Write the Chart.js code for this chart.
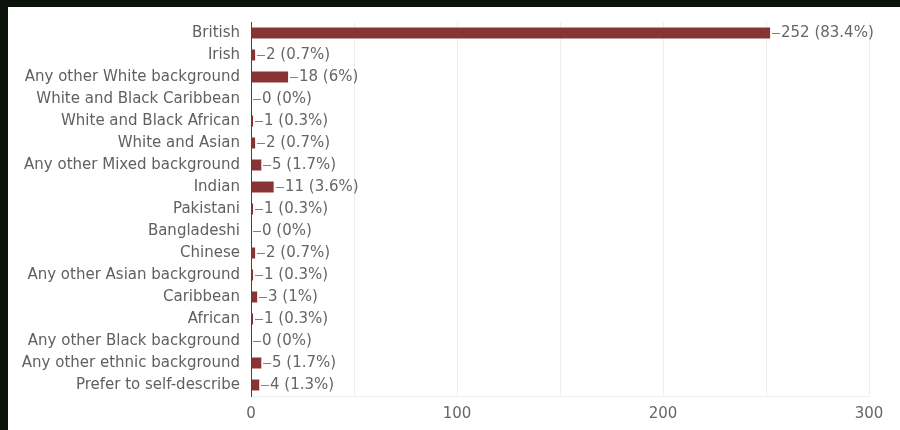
<!DOCTYPE html>
<html>
<head>
<meta charset="utf-8">
<script src="https://cdn.jsdelivr.net/npm/chart.js@4"></script>
<style>
  html, body { margin: 0; padding: 0; background: #0c110c; width: 900px; height: 430px; overflow: hidden; }
  #frame { position: absolute; left: 8px; top: 7px; width: 892px; height: 423px; background: #ffffff; }
  canvas { display: block; }
</style>
</head>
<body>
<div id="frame"><canvas id="chart" width="892" height="423"></canvas></div>
<script>
// Ethnic background of respondents
const categories = [
  'British',
  'Irish',
  'Any other White background',
  'White and Black Caribbean',
  'White and Black African',
  'White and Asian',
  'Any other Mixed background',
  'Indian',
  'Pakistani',
  'Bangladeshi',
  'Chinese',
  'Any other Asian background',
  'Caribbean',
  'African',
  'Any other Black background',
  'Any other ethnic background',
  'Prefer to self-describe'
];
const counts = [252, 2, 18, 0, 1, 2, 5, 11, 1, 0, 2, 1, 3, 1, 0, 5, 4];
const percents = ['83.4%', '0.7%', '6%', '0%', '0.3%', '0.7%', '1.7%', '3.6%', '0.3%', '0%', '0.7%', '0.3%', '1%', '0.3%', '0%', '1.7%', '1.3%'];
const xTickLabels = [0, 100, 200, 300];

const FONT_FAMILY = '"DejaVu Sans", "Liberation Sans", Arial, sans-serif';
const FONT_SIZE = 15;

// Leader line + "count (percent)" label drawn after each bar
const valueLabels = {
  id: 'valueLabels',
  afterDatasetsDraw(chart) {
    const ctx = chart.ctx;
    const meta = chart.getDatasetMeta(0);
    ctx.save();
    ctx.font = FONT_SIZE + 'px ' + FONT_FAMILY;
    ctx.textBaseline = 'middle';
    ctx.textAlign = 'left';
    meta.data.forEach((bar, i) => {
      const x = Math.round(bar.x);
      const y = Math.round(bar.y) + 0.5;
      ctx.strokeStyle = '#808080';
      ctx.lineWidth = 1;
      ctx.beginPath();
      ctx.moveTo(x + 2, y);
      ctx.lineTo(x + 10, y);
      ctx.stroke();
      ctx.fillStyle = '#666666';
      ctx.fillText(counts[i] + ' (' + percents[i] + ')', x + 11, y);
    });
    ctx.restore();
  }
};

new Chart(document.getElementById('chart'), {
  type: 'bar',
  data: {
    labels: categories,
    datasets: [{
      data: counts,
      backgroundColor: '#883434',
      borderWidth: 0,
      categoryPercentage: 1.0,
      barPercentage: 0.5
    }]
  },
  options: {
    indexAxis: 'y',
    responsive: false,
    animation: false,
    layout: { padding: { left: 0, right: 31, top: 15, bottom: 0 } },
    plugins: {
      legend: { display: false },
      tooltip: { enabled: false }
    },
    scales: {
      x: {
        min: 0,
        max: 300,
        afterFit(scale) { scale.height = 34; },
        border: { display: true, color: '#f0f0f0' },
        grid: {
          drawTicks: false,
          color: '#eeeeee'
        },
        ticks: {
          stepSize: 50,
          autoSkip: false,
          maxRotation: 0,
          padding: 9,
          color: '#666666',
          font: { family: FONT_FAMILY, size: FONT_SIZE },
          callback: (v) => xTickLabels.includes(v) ? String(v) : ''
        }
      },
      y: {
        afterFit(scale) {
          scale.width = 243;
          scale.paddingTop = 0;
          scale.paddingBottom = 0;
        },
        border: { display: true, color: '#444444', width: 1 },
        grid: { display: false, drawTicks: false },
        ticks: {
          autoSkip: false,
          padding: 11,
          color: '#606060',
          font: { family: FONT_FAMILY, size: FONT_SIZE }
        }
      }
    }
  },
  plugins: [valueLabels]
});
</script>
</body>
</html>
